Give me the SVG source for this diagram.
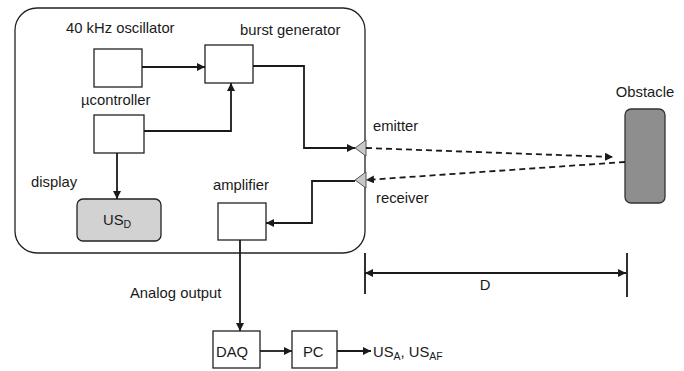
<svg xmlns="http://www.w3.org/2000/svg" width="684" height="371" viewBox="0 0 684 371">
<defs>
<style>
text{font-family:"Liberation Sans",Arial,sans-serif;font-size:14.8px;fill:#1a1a1a}
.box{fill:#fff;stroke:#222;stroke-width:1.3}
.ln{fill:none;stroke:#1a1a1a;stroke-width:1.8}
.dash{fill:none;stroke:#1a1a1a;stroke-width:1.8;stroke-dasharray:6,4}
.sub{font-size:10.5px}
</style>
<marker id="ah" viewBox="0 0 10 10" refX="10" refY="5" markerWidth="8" markerHeight="8" markerUnits="userSpaceOnUse" orient="auto-start-reverse">
<path d="M0,0 L10,5 L0,10 z" fill="#1a1a1a"/>
</marker>
</defs>
<rect x="15" y="8" width="350" height="245" rx="22" fill="#fff" stroke="#222" stroke-width="1.3"/>
<g id="oscillator"><rect class="box" x="94" y="49" width="48" height="38"/><text x="66" y="33">40 kHz oscillator</text></g>
<g id="burst"><rect class="box" x="205" y="45" width="48" height="38"/><text x="240" y="35">burst generator</text></g>
<g id="controller"><rect class="box" x="94" y="115" width="50" height="38"/><text x="81" y="105">µcontroller</text></g>
<g id="display"><rect x="77" y="199" width="84" height="42" rx="6" fill="#d2d2d2" stroke="#222" stroke-width="1.3"/><text x="103" y="225">US<tspan class="sub" dy="3">D</tspan></text><text x="31" y="187">display</text></g>
<g id="amplifier"><rect class="box" x="218" y="203" width="48" height="37"/><text x="213" y="190">amplifier</text></g>
<g id="emitter"><path d="M355,148 L366,140 L366,156 z" fill="#c8c8c8" stroke="#555" stroke-width="1"/><text x="373" y="131">emitter</text></g>
<g id="receiver"><path d="M355,180 L366,172 L366,188 z" fill="#c8c8c8" stroke="#555" stroke-width="1"/><text x="376" y="203">receiver</text></g>
<g id="obstacle"><rect x="625" y="109" width="40" height="94" rx="6" fill="#8e8e8e" stroke="#333" stroke-width="1.3"/><text x="645" y="97" text-anchor="middle">Obstacle</text></g>
<g id="daq"><rect class="box" x="213" y="331" width="47" height="37"/><text x="216" y="357">DAQ</text></g>
<g id="pc"><rect class="box" x="292" y="331" width="45" height="37"/><text x="303" y="357">PC</text></g>
<g id="connectors">
<path class="ln" d="M142,67 H205" marker-end="url(#ah)"/>
<path class="ln" d="M144,131 H231 V83" marker-end="url(#ah)"/>
<path class="ln" d="M117,153 V199" marker-end="url(#ah)"/>
<path class="ln" d="M253,66 H304 V148 H355" marker-end="url(#ah)"/>
<path class="ln" d="M355,181 H312 V223 H266" marker-end="url(#ah)"/>
<path class="dash" d="M366,148 L613,157" marker-end="url(#ah)"/>
<path class="dash" d="M625,162 L366,180" marker-end="url(#ah)"/>
<path class="ln" d="M240,240 V331" marker-end="url(#ah)"/>
<path class="ln" d="M260,351 H292" marker-end="url(#ah)"/>
<path class="ln" d="M337,351 H371" marker-end="url(#ah)"/>
<path class="ln" d="M365,273 H626" marker-start="url(#ah)" marker-end="url(#ah)"/>
<path class="ln" stroke-width="1.3" d="M365,253 V294 M627,253 V297"/>
</g>
<text x="130" y="298">Analog output</text>
<text x="485" y="290" text-anchor="middle">D</text>
<text x="373" y="357">US<tspan class="sub" dy="3">A</tspan><tspan dy="-3">, US</tspan><tspan class="sub" dy="3">AF</tspan></text>
</svg>
